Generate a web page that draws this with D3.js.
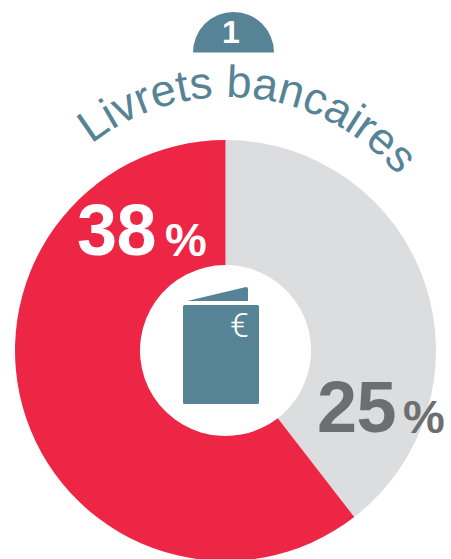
<!DOCTYPE html>
<html>
<head>
<meta charset="utf-8">
<script src="https://cdn.jsdelivr.net/npm/d3@7"></script>
<style>
html, body { margin: 0; padding: 0; background: #fff; overflow: hidden; }
svg { display: block; }
text { font-family: "Liberation Sans", sans-serif; }
</style>
</head>
<body>
<script>
var categorias = ["Autres", "Livrets bancaires"];
var valores = [24.9, 38.1];
var colores = ["#dcddde", "#ee2645"];
var etiquetas = ["25", "38"];
var coloresEtiqueta = ["#6d6e71", "#ffffff"];
var titulo = "Livrets bancaires";
var numero = "1";

var width = 451;
var height = 559;
var azul = "#568496";

var centro = { x: 225.5, y: 350.5 };
var radioExterior = 210.5;
var radioInterior = 85.5;

var svg = d3.select("body")
    .append("svg")
    .attr("width", width)
    .attr("height", height);

// donut
var pie = d3.pie().sort(null);
var arco = d3.arc().innerRadius(radioInterior).outerRadius(radioExterior);

svg.append("g")
    .attr("transform", "translate(" + centro.x + "," + centro.y + ")")
    .selectAll("path")
    .data(pie(valores))
    .join("path")
    .attr("d", arco)
    .attr("fill", function(d, i){ return colores[i]; });

// posiciones de las etiquetas
var posEtiquetas = [
    { x: 317, y: 432, xp: 403, yp: 433 },
    { x: 77, y: 255, xp: 165, yp: 256 }
];

var gEtiquetas = svg.append("g");
etiquetas.forEach(function(t, i){
    var p = posEtiquetas[i];
    gEtiquetas.append("text")
        .attr("x", p.x)
        .attr("y", p.y)
        .attr("font-size", 72)
        .attr("font-weight", "bold")
        .attr("fill", coloresEtiqueta[i])
        .attr("letter-spacing", -0.5)
        .text(t);
    gEtiquetas.append("text")
        .attr("x", p.xp)
        .attr("y", p.yp)
        .attr("font-size", 47)
        .attr("font-weight", "bold")
        .attr("fill", coloresEtiqueta[i])
        .text("%");
});

// titulo en arco, el texto va algo desplazado a la derecha de la cima
var radioTitulo = 222;
var cyTitulo = 97 + radioTitulo;
var cxTitulo = 228;
var desplazamiento = 23;
var arcoTitulo = d3.path();
arcoTitulo.arc(cxTitulo, cyTitulo, radioTitulo, -Math.PI * 0.95, -Math.PI * 0.05);

svg.append("defs").append("path")
    .attr("id", "curvaTitulo")
    .attr("d", arcoTitulo.toString());

svg.append("text")
    .attr("font-size", 45)
    .attr("fill", azul)
    .attr("text-anchor", "middle")
    .append("textPath")
    .attr("href", "#curvaTitulo")
    .attr("startOffset", Math.PI * 0.45 * radioTitulo + desplazamiento)
    .text(titulo);

// semicirculo con el numero
var arcoNumero = d3.arc()
    .innerRadius(0)
    .outerRadius(40.5)
    .startAngle(-Math.PI / 2)
    .endAngle(Math.PI / 2);

svg.append("path")
    .attr("transform", "translate(233.5,52.5)")
    .attr("d", arcoNumero())
    .attr("fill", azul);

svg.append("text")
    .attr("x", 231)
    .attr("y", 43)
    .attr("text-anchor", "middle")
    .attr("font-size", 32)
    .attr("font-weight", "bold")
    .attr("fill", "#fff")
    .text(numero);

// icono del libro
var icono = svg.append("g").attr("fill", azul);
icono.append("rect")
    .attr("x", 183)
    .attr("y", 305)
    .attr("width", 76)
    .attr("height", 99)
    .attr("rx", 1.5);
icono.append("path")
    .attr("d", "M187,301 L245,287.2 Q248,286.6 248,289 L248,301 Z");
icono.append("text")
    .attr("x", 239.5)
    .attr("y", 337)
    .attr("text-anchor", "middle")
    .attr("font-size", 34)
    .attr("font-weight", 300)
    .style("font-family", "Roboto, sans-serif")
    .attr("fill", "#fff")
    .text("€");
</script>
</body>
</html>
